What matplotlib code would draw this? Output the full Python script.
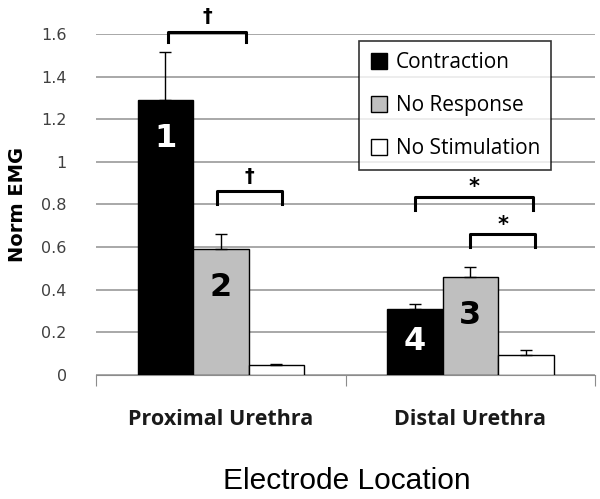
import matplotlib
matplotlib.use('Agg')
import matplotlib.pyplot as plt
import numpy as np

# data
locations = ['Proximal Urethra', 'Distal Urethra']
series = ['Contraction', 'No Response', 'No Stimulation']
contraction = [1.29, 0.31]
no_response = [0.59, 0.46]
no_stim = [0.047, 0.094]
contraction_err = [0.225, 0.022]
no_response_err = [0.07, 0.045]
no_stim_err = [0.003, 0.023]
bar_labels = [['1', '4'], ['2', '3'], ['', '']]

values = [contraction, no_response, no_stim]
errors = [contraction_err, no_response_err, no_stim_err]
colors = ['black', '#bfbfbf', 'white']
num_colors = ['white', 'black', 'black']

fig = plt.figure(figsize=(6, 4.99), dpi=100)
ax = fig.add_axes([0.16, 0.2485, 0.832, 0.6835])

x = np.arange(len(locations))
w = 0.222
for i, s in enumerate(series):
    pos = x + (i - 1) * w
    ax.bar(pos, values[i], w, color=colors[i], edgecolor='black',
           linewidth=1, label=s, zorder=3)
    ax.errorbar(pos, values[i], yerr=[np.zeros(2), errors[i]], fmt='none',
                ecolor='black', elinewidth=1, capsize=4, capthick=1, zorder=4)
    for j in range(len(x)):
        if bar_labels[i][j]:
            v = values[i][j]
            ax.text(pos[j], max(v - 0.18, v / 2), bar_labels[i][j],
                    ha='center', va='center', fontsize=23,
                    fontweight='heavy', color=num_colors[i],
                    family='DejaVu Sans', zorder=5)

# significance brackets
def bracket(x0, x1, ytop, leg, sym, fs, dy):
    ax.plot([x0, x0, x1, x1], [ytop - leg, ytop, ytop, ytop - leg],
            color='black', lw=2.2, clip_on=False, zorder=6,
            solid_joinstyle='round')
    ax.text((x0 + x1) / 2, ytop + dy, sym, ha='center', va='center',
            fontsize=fs, fontweight='bold', color='black', clip_on=False,
            zorder=6)

bracket(-0.21, 0.1, 1.61, 0.05, '\u2020', 14, 0.07)
bracket(-0.015, 0.245, 0.862, 0.06, '\u2020', 14, 0.07)
bracket(0.78, 1.25, 0.835, 0.06, '*', 15, 0.045)
bracket(1.0, 1.26, 0.66, 0.06, '*', 15, 0.045)

ax.set_xlim(-0.5, 1.5)
ax.set_ylim(0, 1.6)
ax.set_yticks(np.arange(0, 1.61, 0.2))
ax.set_yticklabels(['0', '0.2', '0.4', '0.6', '0.8', '1', '1.2', '1.4', '1.6'],
                   fontsize=11.5, color='#404040')
ax.tick_params(axis='y', length=0, pad=21)
ax.yaxis.grid(True, color='#999999', linewidth=1.2, zorder=0)
ax.set_axisbelow(True)
for sp in ['top', 'right', 'left']:
    ax.spines[sp].set_visible(False)
ax.spines['bottom'].set_color('#8c8c8c')

ax.set_xticks([-0.5, 0.5, 1.5])
ax.set_xticklabels([])
ax.tick_params(axis='x', length=8, color='#8c8c8c')
for j, loc in enumerate(locations):
    ax.text(x[j], -0.21, loc, ha='center', va='center', fontsize=15.5,
            fontweight='bold', family='Open Sans', color='#1a1a1a')

ax.set_ylabel('Norm EMG', fontsize=14, fontweight='bold')
ax.yaxis.set_label_coords(-0.138, 0.5)
fig.text(0.578, 0.037, 'Electrode Location', ha='center', va='center',
         fontsize=21.5, family='Liberation Sans')

leg = ax.legend(loc='upper left', bbox_to_anchor=(0.527, 0.98),
                frameon=True, fancybox=False, edgecolor='black',
                prop={'family': 'Open Sans', 'size': 15},
                handlelength=0.8, handleheight=0.8, handletextpad=0.4,
                labelspacing=1.05, borderpad=0.55, borderaxespad=0)
leg.get_frame().set_linewidth(1.2)

fig.savefig('out.png', dpi=100)
